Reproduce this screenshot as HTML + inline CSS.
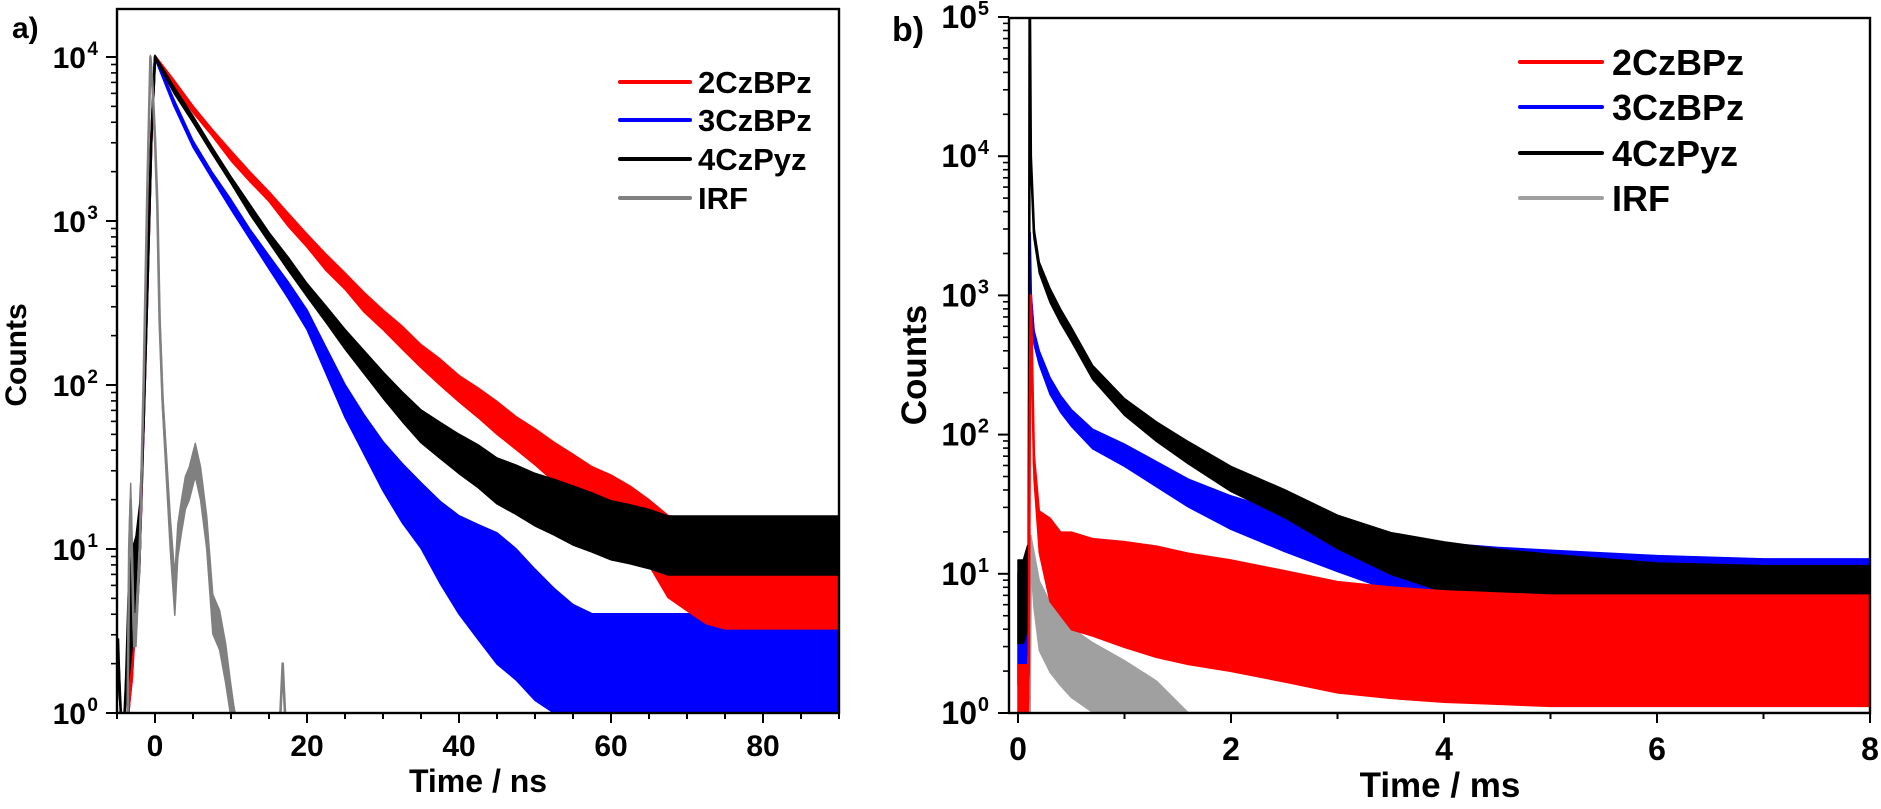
<!DOCTYPE html>
<html><head><meta charset="utf-8"><title>Decay curves</title>
<style>
html,body{margin:0;padding:0;background:#fff;}
svg{display:block;font-family:"Liberation Sans",Arial,sans-serif;font-weight:bold;}
</style></head>
<body>
<svg id="fig" width="1881" height="809" viewBox="0 0 1881 809" xmlns="http://www.w3.org/2000/svg">
<defs>
<clipPath id="clipA"><rect x="117" y="9" width="722" height="704"/></clipPath>
<clipPath id="clipB"><rect x="1009" y="18" width="861" height="695"/></clipPath>
</defs>
<rect x="0" y="0" width="1881" height="809" fill="#fff"/>
<g id="panelA"></g>
<g id="panelB"></g>
</svg>
<script>
// ---------- Panel a data (time in ns, counts) ----------
const T_A = [-5,-4.8,-4.5,-4,-3.5,-3,-2.5,-2,-1.5,-1,-0.5,0,
 2.5,5,7.5,10,12.5,15,17.5,20,22.5,25,27.5,30,32.5,35,37.5,40,42.5,45,47.5,50,52.5,55,57.5,60,62.5,65,67.5,70,72.5,75,77.5,80,82.5,85,87.5,90];
const A_RED = [1,1,1,1,1,2,5,10,60,400,3000,10000,
 6900,4800,3470,2500,1860,1410,1020,760,560,430,320,250,195,150,120,95,78,63,51,42,34,28,23,20,16,12.6,9,8,7,6.5,6.5,6.5,6.5,6.5,6.5,6.5];
const A_RED_SPREAD = [0,0,0,0,0,0.1,0.1,0.1,0.05,0.03,0.02,0.01,
 0.02,0.02,0.02,0.03,0.03,0.03,0.04,0.04,0.05,0.05,0.06,0.06,0.07,0.07,0.08,0.08,0.09,0.1,0.1,0.11,0.12,0.13,0.14,0.15,0.18,0.2,0.25,0.28,0.3,0.3,0.3,0.3,0.3,0.3,0.3,0.3];
const A_BLACK = [2,2,1,1,3,5,6,12,60,400,3000,10000,
 6300,4170,2700,1780,1175,795,550,380,270,190,138,100,74,56,46,38,32,26,23,20,18,16,14.5,13,12.3,11.5,10.5,10.5,10.5,10.5,10.5,10.5,10.5,10.5,10.5,10.5];
const A_BLACK_SPREAD = [0.15,0.15,0,0,0.3,0.3,0.3,0.2,0.05,0.03,0.02,0.01,
 0.02,0.02,0.02,0.02,0.03,0.03,0.04,0.04,0.05,0.06,0.07,0.08,0.09,0.1,0.11,0.12,0.13,0.14,0.15,0.16,0.17,0.18,0.18,0.18,0.18,0.18,0.18,0.18,0.18,0.18,0.18,0.18,0.18,0.18,0.18,0.18];
const A_BLUE = [1,1,1,1,1,2,5,10,60,400,3000,10000,
 5250,2950,1900,1260,830,560,380,250,141,80,50,32,22,16,11,8,6.3,5,4,3,2.4,2,1.8,1.8,1.8,1.8,1.8,1.8,1.8,1.8,1.8,1.8,1.8,1.8,1.8,1.8];
const A_BLUE_SPREAD = [0,0,0,0,0,0.1,0.1,0.1,0.05,0.03,0.02,0.01,
 0.02,0.02,0.02,0.03,0.03,0.04,0.05,0.06,0.08,0.1,0.12,0.15,0.18,0.2,0.25,0.3,0.35,0.4,0.4,0.4,0.38,0.36,0.35,0.35,0.35,0.35,0.35,0.35,0.35,0.35,0.35,0.35,0.35,0.35,0.35,0.35];
const T_A_IRF = [-5,-3.6,-3.4,-3.2,-3.0,-2.8,-2.5,-2.0,-1.5,-1.0,-0.6,-0.3,0.0,0.3,0.6,1.0,1.5,2.0,2.6,3.0,3.5,4.0,4.5,5.3,6.0,6.8,7.6,8.5,9.3,9.9,10.5,null,16.5,16.8,17.1];
const A_IRF = [1,1,10,20,8,3.2,3.2,10,100,1600,10000,6300,3200,1260,250,80,32,12.6,5.2,11.2,16,22,25,35,25,12.6,4,3.2,2,1.26,1,null,1,2,1];
const A_IRF_SPREAD = [0,0,0.1,0.1,0.1,0.1,0.1,0.08,0.05,0.03,0.01,0.02,0.03,0.04,0.05,0.06,0.08,0.1,0.12,0.1,0.1,0.1,0.1,0.1,0.1,0.1,0.12,0.12,0.12,0.1,0,null,0,0,0];

// ---------- Panel b data (time in ms, counts) ----------
const T_B = [0,0.05,0.09,0.1,0.11,0.12,0.15,0.2,0.3,0.4,0.5,0.7,1.0,1.3,1.6,2.0,2.5,3,3.5,4,4.5,5,6,7,8];
const B_BLACK = [6.3,6.3,8,8,200000,10000,2800,1580,1000,710,525,280,158,105,74,48,32,20,14,11.2,9.5,8.3,7.2,6.9,6.9];
const B_BLACK_SPREAD = [0.3,0.3,0.3,0,0,0,0.04,0.04,0.05,0.05,0.05,0.05,0.06,0.07,0.08,0.09,0.1,0.12,0.15,0.18,0.2,0.22,0.22,0.22,0.22];
const B_BLUE = [4,4,4,4,2800,1000,500,355,224,166,132,93,71,52,38,27.5,20,15,12,10,8.9,8.3,7.6,7.2,7.2];
const B_BLUE_SPREAD = [0.4,0.4,0.4,0.4,0,0.03,0.05,0.05,0.06,0.06,0.06,0.07,0.08,0.09,0.1,0.12,0.14,0.16,0.2,0.22,0.24,0.25,0.25,0.25,0.25];
const B_RED = [1.4,1.4,1.4,2,100,1000,60,20,12.6,10,8.9,8,7.1,6.3,5.6,5,4.2,3.5,3.2,3,2.9,2.8,2.8,2.8,2.8];
const B_RED_SPREAD = [0.2,0.2,0.2,0.2,0,0,0.1,0.15,0.3,0.3,0.35,0.35,0.38,0.4,0.4,0.4,0.4,0.4,0.4,0.4,0.4,0.4,0.4,0.4,0.4];
const B_IRF = [1,1,1,1,1,15,9,5,3.5,2.8,2.3,1.8,1.5,1.2,1,1,1,1,1,1,1,1,1,1,1];
const B_IRF_SPREAD = [0,0,0,0,0,0.1,0.2,0.25,0.25,0.25,0.25,0.25,0.2,0.15,0,0,0,0,0,0,0,0,0,0,0];

const LEGEND_LABELS = ["2CzBPz","3CzBPz","4CzPyz","IRF"];
const A_XTICKS = [0,20,40,60,80];
const B_XTICKS = [0,2,4,6,8];
const A_DECADES = [0,1,2,3,4];
const B_DECADES = [0,1,2,3,4,5];

const NS = "http://www.w3.org/2000/svg";
function mk(tag, attrs, parent){
  const e = document.createElementNS(NS, tag);
  for (const k in attrs) e.setAttribute(k, attrs[k]);
  if (parent) parent.appendChild(e);
  return e;
}
const axA = {x0:117,x1:839,y0:713,y1:9, xmin:-5,xmax:90, decPx:164};
const axB = {x0:1009,x1:1870,y0:713,y1:18, xmin:-0.0846,xmax:8, decPx:139.2};
function sx(ax, v){ return ax.x0 + (v-ax.xmin)/(ax.xmax-ax.xmin)*(ax.x1-ax.x0); }
function sy(ax, c){ const l = Math.log10(Math.max(c,0.85)); return ax.y0 - l*ax.decPx; }

function drawSeries(g, ax, ts, vals, spread, color, name, clip){
  const grp = mk('g', {'clip-path':'url(#'+clip+')'}, g);
  
  
  let segs = [], cur = [];
  for (let i=0;i<ts.length;i++){
    if (ts[i]===null || vals[i]===null){ if(cur.length) segs.push(cur); cur=[]; continue; }
    cur.push(i);
  }
  if (cur.length) segs.push(cur);
  segs.forEach(seg=>{
    let up = [], lo = [], mid = [];
    seg.forEach(i=>{
      const x = sx(ax, ts[i]);
      const f = Math.pow(10, spread[i]||0);
      up.push(x.toFixed(1)+','+sy(ax, vals[i]*f).toFixed(1));
      lo.push(x.toFixed(1)+','+sy(ax, vals[i]/f).toFixed(1));
      mid.push(x.toFixed(1)+','+sy(ax, vals[i]).toFixed(1));
    });
    const band = mk('polygon', {points: up.concat(lo.reverse()).join(' '), fill: color, stroke: color, 'stroke-width': 1.5, 'stroke-linejoin':'round'}, grp);
    
    
    const line = mk('polyline', {points: mid.join(' '), fill:'none', stroke: color, 'stroke-width': 2.6, 'stroke-linejoin':'round'}, grp);
    
    
  });
}

function drawAxes(g, ax, xticks, xminor, decades, fs, sup, labelEnd, supEnd, xlabelY){
  const frame = mk('rect', {x:ax.x0, y:ax.y1, width:ax.x1-ax.x0, height:ax.y0-ax.y1, fill:'none', stroke:'#000', 'stroke-width':2.4}, g);
  
  
  for (let v=ax.xmin; v<=ax.xmax+1e-9; v+=xminor){
    const vv = Math.round(v/xminor)*xminor;
    if (vv < ax.xmin - 1e-6) continue;
    const major = xticks.some(t=>Math.abs(t-vv)<1e-6);
    const x = sx(ax, vv);
    const t = mk('line', {x1:x, x2:x, y1:ax.y0, y2:ax.y0+(major?10:6), stroke:'#000', 'stroke-width':2}, g);
    
    
  }
  xticks.forEach(v=>{
    const t = mk('text', {x:sx(ax,v), y:xlabelY, 'font-size':fs, 'text-anchor':'middle'}, g);
    t.textContent = v;
    
    
  });
  decades.forEach(d=>{
    const y = sy(ax, Math.pow(10,d));
    const t = mk('line', {x1:ax.x0-11, x2:ax.x0, y1:y, y2:y, stroke:'#000', 'stroke-width':2}, g);
    
    
    const lab = mk('text', {x:labelEnd, y:y+11, 'font-size':fs, 'text-anchor':'end'}, g);
    lab.textContent = '10';
    
    
    const s = mk('text', {x:supEnd, y:y-2, 'font-size':sup, 'text-anchor':'end'}, g);
    s.textContent = d;
    
    
    for (let k=2;k<=9;k++){
      const yy = sy(ax, k*Math.pow(10,d));
      if (yy < ax.y1) continue;
      const m = mk('line', {x1:ax.x0-6, x2:ax.x0, y1:yy, y2:yy, stroke:'#000', 'stroke-width':1.6}, g);
      
      
    }
  });
}

function drawLegend(g, x1, x2, tx, ys, fs, colors){
  LEGEND_LABELS.forEach((lbl,i)=>{
    const e = mk('g', {}, g);
    
    
    mk('line', {x1:x1, x2:x2, y1:ys[i], y2:ys[i], stroke:colors[i], 'stroke-width':4, 'stroke-linecap':'round'}, e);
    const t = mk('text', {x:tx, y:ys[i]+fs*0.36, 'font-size':fs}, e);
    t.textContent = lbl;
  });
}

const gA = document.getElementById('panelA');
drawSeries(gA, axA, T_A, A_BLUE, A_BLUE_SPREAD, '#0000ff', 'series-3czbpz-a', 'clipA');
drawSeries(gA, axA, T_A, A_RED, A_RED_SPREAD, '#ff0000', 'series-2czbpz-a', 'clipA');
drawSeries(gA, axA, T_A, A_BLACK, A_BLACK_SPREAD, '#000000', 'series-4czpyz-a', 'clipA');
drawSeries(gA, axA, T_A_IRF, A_IRF, A_IRF_SPREAD, '#808080', 'series-irf-a', 'clipA');
drawAxes(gA, axA, A_XTICKS, 5, A_DECADES, 30, 19, 86, 98, 756);
drawLegend(gA, 620, 690, 698, [82,120,159,198], 31, ['#ff0000','#0000ff','#000000','#808080']);

const gB = document.getElementById('panelB');
drawSeries(gB, axB, T_B, B_BLUE, B_BLUE_SPREAD, '#0000ff', 'series-3czbpz-b', 'clipB');
drawSeries(gB, axB, T_B, B_BLACK, B_BLACK_SPREAD, '#000000', 'series-4czpyz-b', 'clipB');
drawSeries(gB, axB, T_B, B_IRF, B_IRF_SPREAD, '#a0a0a0', 'series-irf-b', 'clipB');
drawSeries(gB, axB, T_B, B_RED, B_RED_SPREAD, '#ff0000', 'series-2czbpz-b', 'clipB');
drawAxes(gB, axB, B_XTICKS, 1, B_DECADES, 32, 20, 977, 989, 760);
drawLegend(gB, 1520, 1602, 1612, [62,107,153,198], 36, ['#ff0000','#0000ff','#000000','#a0a0a0']);
</script>
<svg style="position:absolute;left:0;top:0" width="1881" height="809">
<text x="12" y="38" font-size="30" font-weight="bold" font-family="Liberation Sans, sans-serif">a)</text>
<text x="892" y="41" font-size="34" font-weight="bold" font-family="Liberation Sans, sans-serif">b)</text>
<text transform="translate(26,355) rotate(-90)" text-anchor="middle" font-size="30" font-weight="bold" font-family="Liberation Sans, sans-serif">Counts</text>
<text transform="translate(926,365) rotate(-90)" text-anchor="middle" font-size="35" font-weight="bold" font-family="Liberation Sans, sans-serif">Counts</text>
<text x="478" y="792" text-anchor="middle" font-size="32" font-weight="bold" font-family="Liberation Sans, sans-serif">Time / ns</text>
<text x="1440" y="797" text-anchor="middle" font-size="35" font-weight="bold" font-family="Liberation Sans, sans-serif">Time / ms</text>
</svg>
</body></html>
